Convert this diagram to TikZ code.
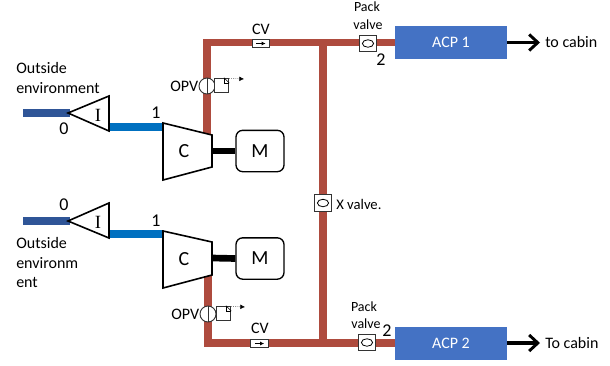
\documentclass[tikz,border=0pt]{standalone}
\usepackage{fontspec}
\setmainfont{Carlito}
\newfontfamily\serifI{Liberation Serif}
\usetikzlibrary{arrows.meta}
\definecolor{hotpipe}{HTML}{AE4B3E}
\definecolor{coldpipe}{HTML}{0070C0}
\definecolor{ambpipe}{HTML}{2F5597}
\definecolor{acpblue}{HTML}{4472C4}
\tikzset{
  lbl/.style={inner sep=0pt, font=\fontsize{12}{14}\selectfont},
  smalllbl/.style={inner sep=0pt, font=\fontsize{10.5}{13}\selectfont},
  numlbl/.style={inner sep=0pt, font=\fontsize{13.5}{15}\selectfont},
  hot/.style={draw=hotpipe, line width=5.5pt},
  cold/.style={draw=coldpipe, line width=5.5pt},
  amb/.style={draw=ambpipe, line width=5.5pt},
  shaft/.style={draw=black, line width=5pt},
  motor/.style={draw, fill=white, line width=1pt, rounded corners=5pt, minimum width=36pt, minimum height=31pt, inner sep=0pt, font=\fontsize{15}{17}\selectfont},
  acp/.style={fill=acpblue, text=white, minimum width=84pt, minimum height=24.75pt, inner sep=0pt, font=\fontsize{12}{14}\selectfont},
  valvebox/.style={draw=black!80, fill=white, line width=.7pt, minimum width=12.5pt, minimum height=12.5pt, inner sep=0pt},
  cvbox/.style={draw=black!80, fill=white, line width=.7pt, minimum width=13pt, minimum height=6.5pt, inner sep=0pt},
  opv/.style={circle, draw=black!80, fill=white, line width=.7pt, minimum size=12pt, inner sep=0pt},
  pilot/.style={draw=black!80, fill=white, line width=.7pt, minimum size=11pt, inner sep=0pt},
  tocabin/.style={-{Straight Barb[length=6.5pt,width=12pt,line width=2.2pt]}, line width=2.4pt},
  vent/.style={densely dotted, line width=.4pt, -{Latex[length=3.5pt,width=3.5pt]}},
}
\begin{document}
\begin{tikzpicture}[x=.75pt, y=-.75pt]
  \useasboundingbox (0,0) rectangle (610,365);

  % Define the inlet and compressor outlines
  \def\inletA{(68,113) -- (109,96) -- (109,131) -- cycle}
  \def\inletB{(68,221) -- (109,203) -- (109,238) -- cycle}
  \def\compA{(163,123) -- (212,135) -- (212,167) -- (163,180) -- cycle}
  \def\compB{(163,231) -- (212,242) -- (212,275) -- (163,288) -- cycle}

  % Named points of the pipes
  \coordinate (ambA) at (23,113);
  \coordinate (ambB) at (23,221);
  \coordinate (tipA) at (70,113);
  \coordinate (tipB) at (70,221);
  \coordinate (inA) at (109,127);
  \coordinate (inB) at (109,234);
  \coordinate (compinA) at (164,127);
  \coordinate (compinB) at (164,234);
  \coordinate (compoutA) at (207,134);
  \coordinate (compoutB) at (208,274);
  \coordinate (cornerA) at (207,42.5);
  \coordinate (cornerB) at (208,343);
  \coordinate (teeA) at (323,42.5);
  \coordinate (teeB) at (323,343);
  \coordinate (shaftA) at (212,151);
  \coordinate (shaftB) at (212,258);

  % Boxes
  \node[acp] (acpA) at (451,42.5) {ACP 1};
  \node[acp] (acpB) at (451,343) {ACP 2};
  \node[motor] (motorA) at (260,151) {M};
  \node[motor] (motorB) at (260,258.5) {M};

  % Pipes
  \draw[amb] (ambA) -- (tipA);
  \draw[amb] (ambB) -- (tipB);
  \draw[cold] (inA) -- (compinA);
  \draw[cold] (inB) -- (compinB);
  \draw[hot, line join=miter] (compoutA) -- (cornerA) -- (acpA.west);
  \draw[hot, line join=miter] (compoutB) -- (cornerB) -- (acpB.west);
  \draw[hot] (teeA) -- (teeB);
  \draw[shaft] (shaftA) -- (motorA.west);
  \draw[shaft] (shaftB) -- (motorB.west);

  % Inlets and compressors on top of the pipes
  \draw[fill=white, line width=1.2pt] \inletA;
  \draw[fill=white, line width=1.2pt] \inletB;
  \draw[fill=white, line width=1.2pt] \compA;
  \draw[fill=white, line width=1.2pt] \compB;
  \node[inner sep=0pt, font=\serifI\fontsize{14}{16}\selectfont] (inletlblA) at (98,115) {I};
  \node[inner sep=0pt, font=\serifI\fontsize{14}{16}\selectfont] (inletlblB) at (98,222) {I};
  \node[inner sep=0pt, font=\fontsize{15}{17}\selectfont] (complblA) at (184,151) {C};
  \node[inner sep=0pt, font=\fontsize{15}{17}\selectfont] (complblB) at (184,259) {C};

  % Check valves
  \node[cvbox] (cvA) at (261,43.5) {};
  \node[cvbox] (cvB) at (259.5,343.5) {};
  \draw[-{Latex[length=3pt,width=3pt]}, line width=.6pt] ([xshift=-3.5pt]cvA.center) -- ([xshift=3.5pt]cvA.center);
  \draw[-{Latex[length=3pt,width=3pt]}, line width=.6pt] ([xshift=-3.5pt]cvB.center) -- ([xshift=3.5pt]cvB.center);

  % Pack valves and cross valve
  \node[valvebox] (packA) at (368,43.5) {};
  \node[valvebox] (packB) at (367,342.5) {};
  \node[valvebox] (xvalve) at (323,203) {};
  \draw[line width=.6pt] (packA.center) ellipse (4.2pt and 2.8pt);
  \draw[line width=.6pt] (packB.center) ellipse (4.2pt and 2.8pt);
  \draw[line width=.6pt] (xvalve.center) ellipse (4.2pt and 2.8pt);

  % Overpressure valves
  \node[opv] (opvA) at (207,86) {};
  \node[opv] (opvB) at (208,314) {};
  \draw[black!80, line width=.7pt] (opvA.north) -- (opvA.south);
  \draw[black!80, line width=.7pt] (opvB.north) -- (opvB.south);
  \node[pilot] (pilotA) at (221.5,85.5) {};
  \node[pilot] (pilotB) at (223.5,313.5) {};
  \draw[line width=.4pt] ([xshift=-4pt]pilotA.north east) |- ([yshift=-4pt]pilotA.north east);
  \draw[line width=.4pt] ([xshift=-4pt]pilotA.north east) -- ([yshift=-4pt]pilotA.north east);
  \draw[line width=.4pt] ([xshift=-4pt]pilotB.north east) |- ([yshift=-4pt]pilotB.north east);
  \draw[line width=.4pt] ([xshift=-4pt]pilotB.north east) -- ([yshift=-4pt]pilotB.north east);
  \coordinate (ventA) at (244,79);
  \coordinate (ventB) at (245,307);
  \draw[vent] (pilotA.north east) ++(0,-.5pt) -- (ventA);
  \draw[vent] (pilotB.north east) ++(0,-.5pt) -- (ventB);

  % Cabin arrows
  \coordinate (cabinA) at (540,42.5);
  \coordinate (cabinB) at (540,343);
  \draw[tocabin] (acpA.east) -- (cabinA);
  \draw[tocabin] (acpB.east) -- (cabinB);

  % Labels
  \node[lbl, anchor=west] (toA) at (545,42) {to cabin};
  \node[lbl, anchor=west] (toB) at (545,343) {To cabin};
  \node[lbl, anchor=west] (envtopA) at (16,68) {Outside};
  \node[lbl, anchor=west] (envtopB) at (16,88) {environment};
  \node[lbl, anchor=west] (envbotA) at (16,243) {Outside};
  \node[lbl, anchor=west] (envbotB) at (16,263) {environm};
  \node[lbl, anchor=west] (envbotC) at (16,282) {ent};
  \node[numlbl] (zeroA) at (64,129) {0};
  \node[numlbl] (oneA) at (156,113) {1};
  \node[numlbl] (zeroB) at (64,205) {0};
  \node[numlbl] (oneB) at (156,221) {1};
  \node[lbl, anchor=east] (opvlblA) at (198.5,86) {OPV};
  \node[lbl, anchor=east] (opvlblB) at (199.5,314) {OPV};
  \node[lbl] (cvlblA) at (261,29) {CV};
  \node[lbl] (cvlblB) at (260,328) {CV};
  \node[smalllbl] (packlblA) at (367,7) {Pack};
  \node[smalllbl] (vlvlblA) at (368,25) {valve};
  \node[smalllbl] (packlblB) at (364,307) {Pack};
  \node[smalllbl] (vlvlblB) at (366,324) {valve};
  \node[numlbl] (twoA) at (381,60) {2};
  \node[numlbl] (twoB) at (387,331) {2};
  \node[inner sep=0pt, anchor=west, font=\fontsize{11}{13}\selectfont] (xlbl) at (336,204) {X valve.};
\end{tikzpicture}
\end{document}
